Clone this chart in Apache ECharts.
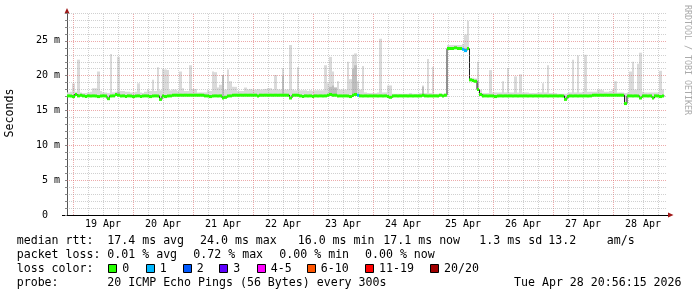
<!DOCTYPE html>
<html><head><meta charset="utf-8">
<script src="https://cdn.jsdelivr.net/npm/echarts@6/dist/echarts.min.js"></script>
<style>html,body{margin:0;padding:0;background:#fff}#c{width:697px;height:297px}</style>
</head><body><div id="c"></div>
<script>
// ---- data (hourly bins from the left edge of the graph) ----
const dayLabels = ['19 Apr','20 Apr','21 Apr','22 Apr','23 Apr','24 Apr','25 Apr','26 Apr','27 Apr','28 Apr'];
const yTickLabels = ['0  ','5 m','10 m','15 m','20 m','25 m'];

const median = [
17.1,17.1,17.0,17.3,17.1,17.2,17.1,17.0,17.1,17.1,
17.1,17.1,17.0,17.1,17.1,17.1,16.7,17.1,17.1,17.3,
17.2,17.1,17.1,17.0,17.1,17.1,17.0,17.1,17.1,17.0,
17.1,17.1,17.1,17.0,17.1,17.1,17.1,16.6,17.1,17.0,
17.1,17.1,17.2,17.2,17.2,17.2,17.2,17.2,17.2,17.2,
17.2,17.2,17.2,17.2,17.2,17.1,17.1,17.0,17.1,17.1,
17.1,17.1,16.8,16.9,17.1,17.1,17.2,17.2,17.2,17.2,
17.2,17.2,17.2,17.2,17.2,17.2,17.1,17.2,17.2,17.2,
17.2,17.2,17.2,17.2,17.2,17.2,17.2,17.2,17.2,16.8,
17.2,17.2,17.2,17.1,17.0,17.1,17.1,17.1,17.0,17.1,
17.1,17.1,17.1,17.1,17.2,17.3,17.2,17.2,17.1,17.1,
17.1,17.1,17.1,17.0,17.2,17.3,17.2,17.1,17.1,17.1,
17.1,17.1,17.1,17.1,17.1,17.1,17.1,17.1,17.0,16.9,
17.1,17.1,17.1,17.1,17.1,17.1,17.1,17.1,17.1,17.1,
17.1,17.1,17.2,17.1,17.1,17.1,17.1,17.1,17.1,17.2,
17.1,17.2,23.9,23.9,23.9,24.0,23.9,23.9,23.8,23.6,
23.9,19.4,19.3,19.2,18.0,17.3,17.1,17.1,17.1,17.1,
17.1,17.0,17.1,17.1,17.1,17.1,17.1,17.1,17.1,17.1,
17.1,17.1,17.1,17.1,17.1,17.1,17.1,17.1,17.1,17.1,
17.1,17.1,17.1,17.1,17.1,17.1,17.1,17.1,17.1,16.6,
17.0,17.1,17.1,17.1,17.1,17.1,17.1,17.1,17.1,17.1,
17.2,17.2,17.2,17.2,17.2,17.2,17.2,17.2,17.2,17.2,
17.2,17.2,17.2,16.0,17.1,17.1,17.1,17.1,17.1,16.8,
17.1,17.1,17.1,17.1,16.8,17.1,17.1,17.0,17.1
];

const smokeTop = [
17.6,17.7,18.9,17.7,22.3,17.6,17.5,17.5,17.6,17.7,
18.2,18.2,20.6,17.8,17.6,17.6,17.5,23.1,17.6,17.7,
22.7,17.8,17.8,17.7,17.7,17.6,17.6,17.7,18.9,17.6,
17.5,17.7,18.0,17.8,19.4,17.8,21.2,17.9,21.0,20.9,
20.8,17.9,18.0,18.0,17.8,20.6,18.2,17.8,17.8,21.5,
18.1,18.1,17.6,17.6,17.6,17.6,17.9,17.8,20.6,20.5,
18.3,18.7,20.1,18.0,20.9,19.2,18.4,18.4,17.8,17.8,
17.8,18.3,18.0,18.1,18.0,18.0,18.1,18.0,18.0,18.1,
18.2,18.2,18.0,20.1,18.0,18.0,21.1,18.0,18.0,24.4,
18.0,17.9,21.2,17.9,17.9,17.9,17.8,17.9,17.8,17.9,
17.9,17.9,17.9,21.5,18.9,22.7,20.6,18.3,19.2,18.0,
18.0,18.0,22.0,19.5,23.0,23.2,19.2,18.0,21.4,17.6,
17.5,17.5,17.5,17.5,17.6,25.3,17.6,17.6,18.6,18.6,
17.4,17.4,17.4,17.4,17.4,17.4,17.4,17.5,17.4,17.4,
17.4,17.5,18.6,17.5,22.4,17.5,21.3,17.4,17.4,17.4,
17.4,17.4,24.4,24.4,24.4,24.4,24.4,24.4,24.6,25.9,
27.9,19.7,19.7,19.6,22.0,18.0,17.5,17.5,17.5,20.8,
17.6,17.6,17.6,17.6,19.2,17.6,21.1,17.6,17.6,19.9,
17.6,20.2,17.6,17.6,17.6,17.5,17.5,17.5,17.6,17.6,
18.9,17.6,21.5,17.5,17.5,17.5,17.4,17.4,17.4,17.4,
17.5,17.6,22.3,17.6,22.9,17.6,17.7,23.0,17.7,17.7,
17.7,17.7,18.0,18.0,17.9,17.7,17.7,17.8,18.0,19.2,
17.6,17.6,17.6,17.5,17.6,20.6,22.0,18.0,21.7,23.3,
17.7,17.6,17.6,17.6,17.6,17.6,17.6,20.7,18.0
];

const darkBins = [20, 62, 86, 105, 106, 107, 114, 115, 142, 164];
const darkTops = [17.7, 20.1, 20.0, 18.4, 18.6, 18.3, 21.0, 21.5, 18.4, 19.3];

const lossBins = [116, 158, 159];
const lossLevels = [1, 1, 1];
const lossColors = ['#26ff00','#00b8ff','#0059ff','#5e00ff','#ff00ff','#ff5500','#ff0000','#a00000'];
const lossNames = ['0','1','2','3','4-5','6-10','11-19','20/20'];

const rttLine = ['median rtt:','17.4 ms avg','24.0 ms max','16.0 ms min','17.1 ms now','1.3 ms sd','13.2','am/s'];
const lossLine = ['packet loss:','0.01 % avg','0.72 % max','0.00 % min','0.00 % now'];
const probeLine = ['probe:','20 ICMP Echo Pings (56 Bytes) every 300s','Tue Apr 28 20:56:15 2026'];

// ---- layout ----
const T0 = 21.6;          // left edge: hours after 18 Apr 00:00
const T1 = T0 + 240;      // right edge
const MONO = '"DejaVu Sans Mono", monospace';
const LF = '11.6px ' + MONO;

const darkMap = {}; darkBins.forEach((b, k) => darkMap[b] = darkTops[k]);
const lossMap = {}; lossBins.forEach((b, k) => lossMap[b] = lossLevels[k]);

const binData = median.map((m, i) => [i, m, smokeTop[i], darkMap[i] || 0, lossMap[i] || 0]);
const lineData = median.map((m, i) => [T0 + i, m]);
lineData.push([T0 + median.length, median[median.length - 1]]);

const MAJOR = 'rgba(220,100,100,0.55)';
const MINOR = 'rgba(150,150,150,0.45)';
const gridLines = [];
for (let h = 24; h < T1; h += 6) {
  gridLines.push({xAxis: h, lineStyle: {color: h % 24 === 0 ? MAJOR : MINOR, type: [1, 1], width: 1}});
}
for (let v = 1; v <= 29; v++) {
  gridLines.push({yAxis: v, lineStyle: {color: v % 5 === 0 ? MAJOR : MINOR, type: [1, 1], width: 1}});
}

const chart = echarts.init(document.getElementById('c'), null, {renderer: 'canvas'});

const graphic = [];
function txt(x, y, s, font, fill, extra) {
  graphic.push(Object.assign({type: 'text', x: x, y: y, silent: true,
    style: {text: s, font: font, fill: fill || '#000', textAlign: 'left', align: 'left', textVerticalAlign: 'middle', verticalAlign: 'middle'}}, extra || {}));
}
const rttX = [16.7, 107.3, 200, 297.7, 383.3, 479.3, 548.3, 606.7];
rttLine.forEach((s, k) => txt(rttX[k], 241, s, LF));
const lossX = [16.7, 107.3, 193.3, 279.3, 365];
lossLine.forEach((s, k) => txt(lossX[k], 255, s, LF));
txt(16.7, 269, 'loss color:', LF);
const boxX = [108.3, 145.7, 182.7, 219.3, 256.7, 306.7, 365, 430];
lossNames.forEach((n, k) => {
  graphic.push({type: 'rect', silent: true, shape: {x: Math.round(boxX[k]) + 0.5, y: 264.5, width: 8, height: 8},
    style: {fill: lossColors[k], stroke: '#000', lineWidth: 1}});
  txt(boxX[k] + 14, 269, n, LF);
});
txt(16.7, 283, probeLine[0], LF);
txt(107.3, 283, probeLine[1], LF);
txt(514, 283, probeLine[2], LF);
// vertical label
graphic.push({type: 'text', x: 10, y: 113, rotation: Math.PI / 2, silent: true,
  style: {text: 'Seconds', font: LF, fill: '#000', textAlign: 'center', align: 'center', textVerticalAlign: 'middle', verticalAlign: 'middle'}});
// watermark
graphic.push({type: 'text', x: 687, y: 5, rotation: -Math.PI / 2, silent: true,
  style: {text: 'RRDTOOL / TOBI OETIKER', font: '8.3px ' + MONO, fill: '#aaaaaa', textAlign: 'left', align: 'left', textVerticalAlign: 'middle', verticalAlign: 'middle'}});
// axis arrows
graphic.push({type: 'polygon', silent: true, shape: {points: [[64.5, 13.5], [69.5, 13.5], [67, 8]]}, style: {fill: '#a01818'}});
graphic.push({type: 'polygon', silent: true, shape: {points: [[668, 212.5], [668, 217.5], [673.5, 215]]}, style: {fill: '#a01818'}});
graphic.push({type: 'line', silent: true, shape: {x1: 667, y1: 215.5, x2: 668, y2: 215.5}, style: {stroke: '#000', lineWidth: 1}});
graphic.push({type: 'line', silent: true, shape: {x1: 62, y1: 215.5, x2: 67, y2: 215.5}, style: {stroke: '#000', lineWidth: 1}});

chart.setOption({
  animation: false,
  backgroundColor: '#fff',
  grid: {left: 67, top: 13, width: 600, height: 202, show: false},
  xAxis: {
    type: 'value', min: T0, max: T1,
    axisLine: {show: true, lineStyle: {color: '#000', width: 1}},
    axisTick: {show: false},
    splitLine: {show: false},
    axisLabel: {
      customValues: dayLabels.map((d, k) => 36 + 24 * k),
      formatter: v => dayLabels[Math.round((v - 36) / 24)] || '',
      fontFamily: MONO, fontSize: 10, color: '#000', margin: 4
    }
  },
  yAxis: {
    type: 'value', min: 0, max: 29, interval: 1,
    axisLine: {show: true, lineStyle: {color: '#555', width: 1}},
    axisTick: {show: true, length: 2, lineStyle: {color: '#888'}},
    splitLine: {show: false},
    axisLabel: {
      formatter: v => (v % 5 === 0 ? yTickLabels[v / 5] : ''),
      fontFamily: MONO, fontSize: 10, color: '#000', margin: 7
    }
  },
  series: [
    {
      type: 'custom', z: 2, silent: true, clip: true,
      data: binData,
      renderItem: function (params, api) {
        const i = api.value(0);
        const a = api.coord([T0 + i, api.value(2)]);
        const b = api.coord([T0 + i + 1, api.value(1)]);
        const x0 = Math.round(a[0]), x1 = Math.round(b[0]);
        const children = [{type: 'rect', shape: {x: x0, y: a[1], width: x1 - x0, height: b[1] - a[1]}, style: {fill: '#dadada'}}];
        const d = api.value(3);
        if (d) {
          const c = api.coord([T0 + i, d]);
          children.push({type: 'rect', shape: {x: x0, y: c[1], width: x1 - x0, height: b[1] - c[1]}, style: {fill: '#bdbdbd'}});
        }
        return {type: 'group', children: children};
      }
    },
    {
      type: 'line', z: 3, data: [], silent: true,
      markLine: {silent: true, symbol: ['none', 'none'], label: {show: false}, animation: false, data: gridLines}
    },
    {
      type: 'line', z: 4, data: lineData, step: 'end', symbol: 'none', silent: true,
      lineStyle: {color: '#202020', width: 1}
    },
    {
      type: 'custom', z: 5, silent: true,
      data: binData,
      renderItem: function (params, api) {
        const i = api.value(0);
        const a = api.coord([T0 + i, api.value(1)]);
        const b = api.coord([T0 + i + 1, api.value(1)]);
        const x0 = Math.round(a[0]), x1 = Math.round(b[0]);
        return {type: 'rect', shape: {x: x0, y: a[1] - 1.5, width: x1 - x0, height: 3},
          style: {fill: lossColors[api.value(4)]}};
      }
    }
  ],
  graphic: graphic
});
</script></body></html>
